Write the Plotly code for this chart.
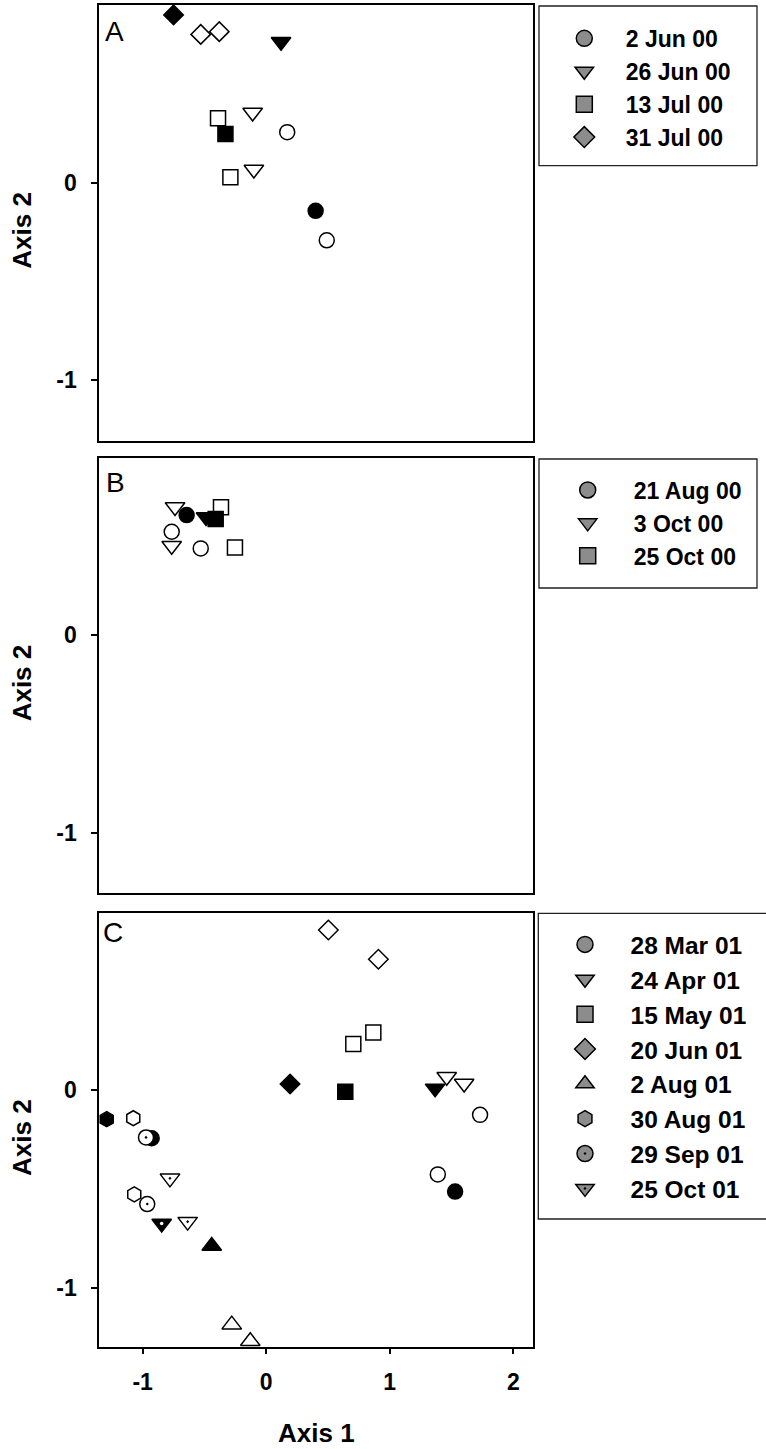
import plotly.graph_objects as go

W, H = 766, 1449

# ---------------- data ----------------
axis1_tickvals = [-1, 0, 1, 2]
axis1_ticktext = ["-1", "0", "1", "2"]
axis2_tickvals = [-1, 0]
axis2_ticktext = ["-1", "0"]

# Panel A (2000, early)
a_dates = ["2 Jun 00", "26 Jun 00", "13 Jul 00", "31 Jul 00"]
a_filled_x = [0.40, 0.12, -0.33, -0.75]
a_filled_y = [-0.14, 0.72, 0.25, 0.856]
a_open1_x = [0.17, -0.11, -0.39, -0.53]
a_open1_y = [0.26, 0.36, 0.33, 0.757]
a_open2_x = [0.49, -0.10, -0.29, -0.38]
a_open2_y = [-0.29, 0.07, 0.03, 0.771]

# Panel B (2000, late)
b_dates = ["21 Aug 00", "3 Oct 00", "25 Oct 00"]
b_filled_x = [-0.644, -0.487, -0.409]
b_filled_y = [0.605, 0.595, 0.585]
b_open1_x = [-0.765, -0.738, -0.366]
b_open1_y = [0.521, 0.646, 0.644]
b_open2_x = [-0.530, -0.765, -0.253]
b_open2_y = [0.437, 0.45, 0.442]

# Panel C (2001)
c_dates = ["28 Mar 01", "24 Apr 01", "15 May 01", "20 Jun 01",
           "2 Aug 01", "30 Aug 01", "29 Sep 01", "25 Oct 01"]
c_filled_x = [1.529, 1.367, 0.640, 0.193, -0.441, -1.291, -0.927, -0.846]
c_filled_y = [-0.514, 0.008, -0.009, 0.030, -0.789, -0.148, -0.244, -0.675]
c_open1_x = [1.731, 1.461, 0.705, 0.503, -0.279, -1.076, -0.973, -0.779]
c_open1_y = [-0.126, 0.067, 0.233, 0.809, -1.187, -0.143, -0.240, -0.447]
c_open2_x = [1.389, 1.602, 0.867, 0.908, -0.129, -1.068, -0.963, -0.636]
c_open2_y = [-0.427, 0.033, 0.290, 0.661, -1.271, -0.528, -0.577, -0.666]

# ---------------- styles ----------------
a_symbols = ["circle", "triangle-down", "square", "diamond"]
b_symbols = ["circle", "triangle-down", "square"]
c_symbols = ["circle", "triangle-down", "square", "diamond",
             "triangle-up", "hexagon", "circle-dot", "triangle-down-dot"]

FONT = "Liberation Sans, Arial, Helvetica, sans-serif"
MS = 15
MS_TRI = 17
LW = 1.5
LEG_FILL = "#8c8c8c"


def msize(sym):
    return MS_TRI if sym.startswith("triangle") else MS


def px_x(p):
    return p / W


def px_y(p):
    return 1 - p / H


# plot-area geometry (pixels)
X0, X1 = 99.3, 532.7
panels = {
    "A": dict(top=4.7, bottom=440.7, yr=[-1.309, 0.908]),
    "B": dict(top=458.0, bottom=892.7, yr=[-1.300, 0.893]),
    "C": dict(top=913.0, bottom=1347.0, yr=[-1.300, 0.895]),
}
XR = [-1.351, 2.157]

fig = go.Figure()


def add_panel(idx, dates, symbols, fx, fy, o1x, o1y, o2x, o2y, legend_name,
              order):
    xa = "x" if idx == 1 else f"x{idx}"
    ya = "y" if idx == 1 else f"y{idx}"

    def open_traces():
        for i, d in enumerate(dates):
            fig.add_trace(go.Scatter(
                x=[o1x[i], o2x[i]], y=[o1y[i], o2y[i]], mode="markers",
                xaxis=xa, yaxis=ya, showlegend=False, cliponaxis=False,
                name=d,
                marker=dict(symbol=symbols[i], size=msize(symbols[i]),
                            color="white",
                            line=dict(color="black", width=LW))))

    def filled_traces():
        for i, d in enumerate(dates):
            fig.add_trace(go.Scatter(
                x=[fx[i]], y=[fy[i]], mode="markers",
                xaxis=xa, yaxis=ya, showlegend=False, cliponaxis=False,
                name=d,
                marker=dict(symbol=symbols[i], size=msize(symbols[i]),
                            color="black",
                            line=dict(color="black", width=LW))))
            if symbols[i].endswith("-dot"):
                fig.add_trace(go.Scatter(
                    x=[fx[i]], y=[fy[i]], mode="markers",
                    xaxis=xa, yaxis=ya, showlegend=False, cliponaxis=False,
                    hoverinfo="skip",
                    marker=dict(symbol="circle", size=3.5, color="white",
                                line=dict(width=0))))

    if order == "open_first":
        open_traces()
        filled_traces()
    else:
        filled_traces()
        open_traces()

    # legend entries (gray symbols)
    for i, d in enumerate(dates):
        fig.add_trace(go.Scatter(
            x=[None], y=[None], mode="markers", xaxis=xa, yaxis=ya,
            name=d, legend=legend_name, showlegend=True,
            marker=dict(symbol=symbols[i], size=16, color=LEG_FILL,
                        line=dict(color="black", width=1.5))))


add_panel(1, a_dates, a_symbols, a_filled_x, a_filled_y, a_open1_x, a_open1_y,
          a_open2_x, a_open2_y, "legend", "open_first")
add_panel(2, b_dates, b_symbols, b_filled_x, b_filled_y, b_open1_x, b_open1_y,
          b_open2_x, b_open2_y, "legend2", "open_first")
add_panel(3, c_dates, c_symbols, c_filled_x, c_filled_y, c_open1_x, c_open1_y,
          c_open2_x, c_open2_y, "legend3", "filled_first")

tickfont = dict(family=FONT, size=23, color="black", weight="bold")
titlefont = dict(family=FONT, size=26, color="black", weight="bold")

layout = dict(
    width=W, height=H, margin=dict(l=0, r=0, t=0, b=0),
    paper_bgcolor="white", plot_bgcolor="white", showlegend=True,
    font=dict(family=FONT, color="black"),
)

for idx, key in enumerate(["A", "B", "C"], start=1):
    p = panels[key]
    xname = "xaxis" if idx == 1 else f"xaxis{idx}"
    yname = "yaxis" if idx == 1 else f"yaxis{idx}"
    ya = "y" if idx == 1 else f"y{idx}"
    xa = "x" if idx == 1 else f"x{idx}"
    is_bottom = key == "C"
    layout[xname] = dict(
        domain=[px_x(X0), px_x(X1)], anchor=ya, range=XR,
        showgrid=False, zeroline=False, showline=True, mirror=True,
        linecolor="black", linewidth=1.8,
        tickvals=axis1_tickvals if is_bottom else [],
        ticktext=axis1_ticktext if is_bottom else [],
        ticks="outside" if is_bottom else "", ticklen=5, tickwidth=1.5,
        tickcolor="black", showticklabels=is_bottom, tickfont=tickfont,
        ticklabelstandoff=8,
    )
    layout[yname] = dict(
        domain=[px_y(p["bottom"]), px_y(p["top"])], anchor=xa, range=p["yr"],
        showgrid=False, zeroline=False, showline=True, mirror=True,
        linecolor="black", linewidth=1.8,
        tickvals=axis2_tickvals, ticktext=axis2_ticktext,
        ticks="outside", ticklen=6, tickwidth=1.5, tickcolor="black",
        tickfont=tickfont, ticklabelstandoff=10,
    )

# legends
layout["legend"] = dict(
    x=px_x(542.8), y=px_y(16.9), xanchor="left", yanchor="top",
    xref="paper", yref="paper", bgcolor="rgba(0,0,0,0)", borderwidth=0,
    itemwidth=73, font=dict(family=FONT, size=23, color="black", weight="bold"),
)
layout["legend2"] = dict(
    x=px_x(541.7), y=px_y(468.5), xanchor="left", yanchor="top",
    xref="paper", yref="paper", bgcolor="rgba(0,0,0,0)", borderwidth=0,
    itemwidth=82, font=dict(family=FONT, size=23, color="black", weight="bold"),
)
layout["legend3"] = dict(
    x=px_x(539.5), y=px_y(922.0), xanchor="left", yanchor="top",
    xref="paper", yref="paper", bgcolor="rgba(0,0,0,0)", borderwidth=0,
    itemwidth=81, font=dict(family=FONT, size=24.5, color="black", weight="bold"),
)

# legend frames
boxes = [(539, 6, 757, 165.7), (539, 459, 757, 588), (538.3, 913.3, 768, 1219)]
layout["shapes"] = [
    dict(type="rect", xref="paper", yref="paper",
         x0=px_x(b[0]), x1=px_x(b[2]), y0=px_y(b[3]), y1=px_y(b[1]),
         line=dict(color="#222222", width=1.3), fillcolor="rgba(0,0,0,0)")
    for b in boxes
]

ann = []
# panel letters
for letter, (lx, ly) in {"A": (103, 31), "B": (104, 482), "C": (101, 932)}.items():
    ann.append(dict(text=letter, x=px_x(lx), y=px_y(ly), xref="paper",
                    yref="paper", xanchor="left", yanchor="middle",
                    showarrow=False,
                    font=dict(family=FONT, size=28, color="black")))
# axis titles
for key in ["A", "B", "C"]:
    p = panels[key]
    cy = (p["top"] + p["bottom"]) / 2 + 8
    ann.append(dict(text="Axis 2", x=px_x(22), y=px_y(cy), xref="paper",
                    yref="paper", xanchor="center", yanchor="middle",
                    textangle=-90, showarrow=False, font=titlefont))
ann.append(dict(text="Axis 1", x=px_x((X0 + X1) / 2), y=px_y(1433),
                xref="paper", yref="paper", xanchor="center",
                yanchor="middle", showarrow=False, font=titlefont))
layout["annotations"] = ann

fig.update_layout(**layout)
fig.write_html(
    "out.html",
    config={"displayModeBar": False},
    post_script="document.body.style.margin='0';document.body.style.overflow='hidden';",
)
